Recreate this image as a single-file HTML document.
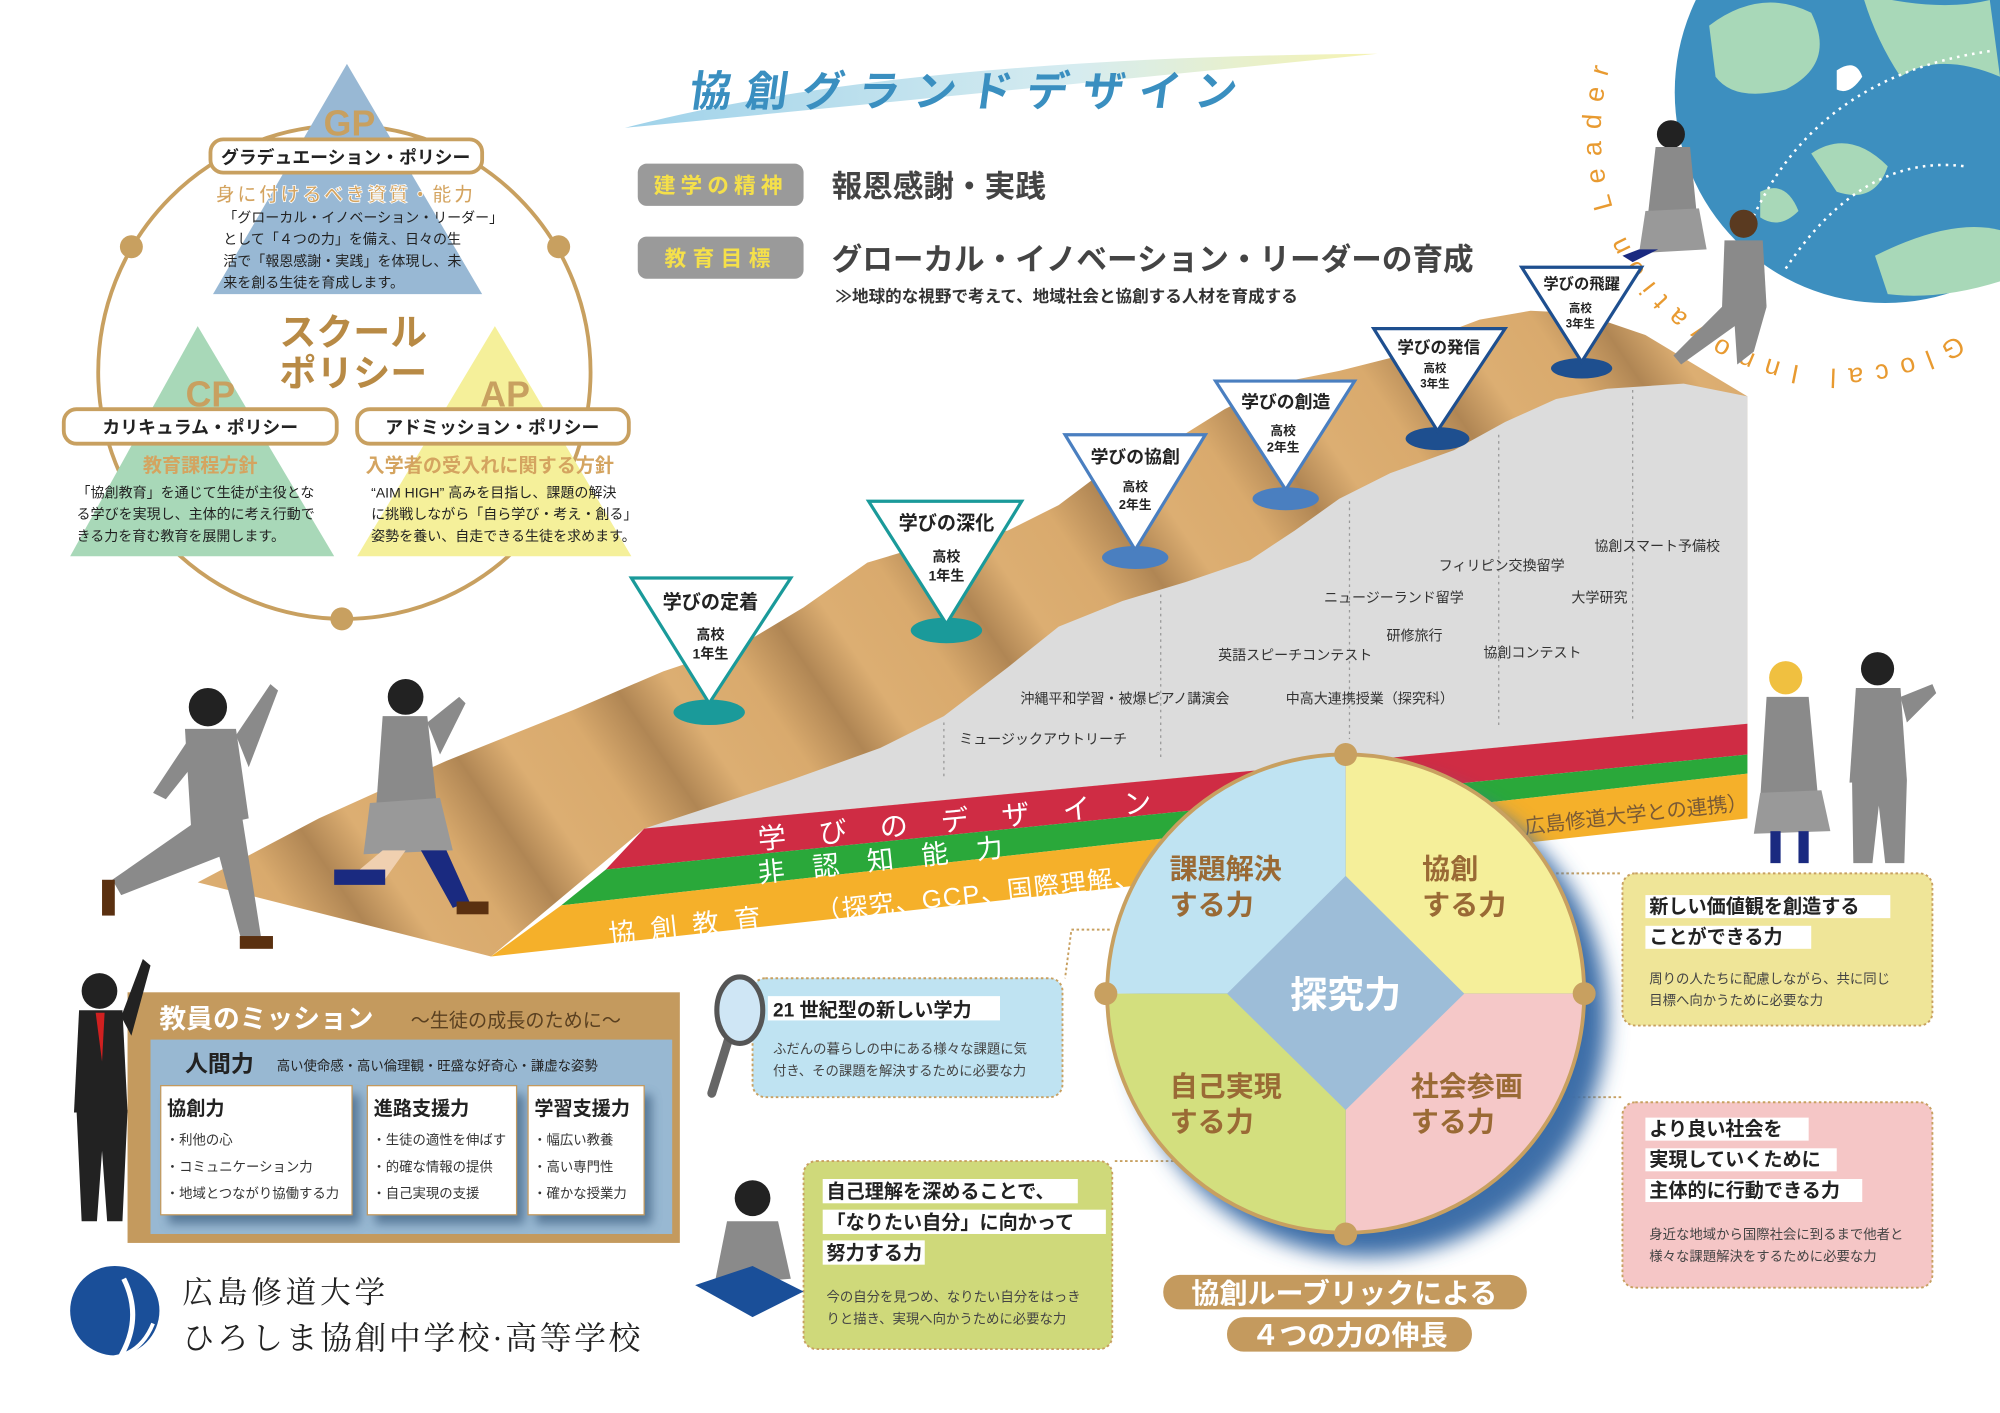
<!DOCTYPE html>
<html><head><meta charset="utf-8"><style>
html,body{margin:0;padding:0;background:#fff;}
svg{display:block;}
text{font-family:"Liberation Sans","Noto Sans CJK JP",sans-serif;}
</style></head><body>
<svg width="2000" height="1413" viewBox="0 0 1568 1105" preserveAspectRatio="none" xmlns="http://www.w3.org/2000/svg">
<defs>
<linearGradient id="sw" x1="0" y1="0" x2="1" y2="0"><stop offset="0" stop-color="#9fd2ea"/><stop offset="0.6" stop-color="#d6ecf0"/><stop offset="1" stop-color="#f6f3b0"/></linearGradient>
<linearGradient id="tan" gradientUnits="userSpaceOnUse" x1="0" y1="0" x2="110" y2="-75" spreadMethod="repeat"><stop offset="0" stop-color="#dcae72"/><stop offset="0.4" stop-color="#d9aa6d"/><stop offset="0.72" stop-color="#b08654"/><stop offset="1" stop-color="#dcae72"/></linearGradient>
<filter id="bl"><feGaussianBlur stdDeviation="8"/></filter>
<filter id="bl2"><feGaussianBlur stdDeviation="4"/></filter>
</defs>

<!-- Globe -->
<circle cx="1478" cy="72" r="165" fill="#3d8fbf"/>
<path d="M1340,20 Q1380,-10 1420,10 Q1440,50 1400,70 Q1360,80 1345,60 Z" fill="#a8d8b8"/>
<path d="M1460,-5 Q1520,10 1560,0 L1568,60 Q1520,40 1490,60 Q1470,30 1460,-5Z" fill="#a8d8b8"/>
<path d="M1420,120 Q1450,100 1480,130 Q1470,160 1440,150 Z" fill="#a8d8b8"/>
<path d="M1470,200 Q1530,170 1568,180 L1568,220 Q1520,235 1480,230 Z" fill="#a8d8b8"/>
<path d="M1380,150 Q1400,140 1410,165 Q1395,180 1380,170Z" fill="#a8d8b8"/>
<path d="M1440,55 Q1455,45 1460,60 Q1450,75 1440,70Z" fill="#fff"/>
<path d="M1370,180 Q1420,60 1560,40" fill="none" stroke="#fff" stroke-width="2" stroke-dasharray="2,4"/>
<path d="M1400,210 Q1460,120 1540,130" fill="none" stroke="#fff" stroke-width="2" stroke-dasharray="2,4"/>
<path id="arc" d="M1535,262 A185,185 0 0,1 1290,-5" fill="none"/>
<text font-size="21" fill="#e89a30" letter-spacing="9"><textPath href="#arc">Glocal Innovation Leader</textPath></text>

<!-- Title -->
<path d="M490,100 Q700,45 1080,42 Q800,70 490,100 Z" fill="url(#sw)"/>
<text x="540" y="83" font-size="33" font-weight="bold" fill="#3a8fc0" letter-spacing="11" transform="skewX(-8) translate(11,0)">協創グランドデザイン</text>

<rect x="500" y="128" width="130" height="33" rx="7" fill="#9a9a9a"/>
<text x="565" y="151" font-size="17" font-weight="bold" fill="#f5e04a" text-anchor="middle" letter-spacing="4">建学の精神</text>
<rect x="500" y="185" width="130" height="33" rx="7" fill="#9a9a9a"/>
<text x="565" y="208" font-size="17" font-weight="bold" fill="#f5e04a" text-anchor="middle" letter-spacing="5">教育目標</text>
<text x="652" y="154" font-size="24" font-weight="bold" fill="#444">報恩感謝・実践</text>
<text x="652" y="211" font-size="24" font-weight="bold" fill="#444">グローカル・イノベーション・リーダーの育成</text>
<text x="655" y="236" font-size="13" font-weight="bold" fill="#333">≫地球的な視野で考えて、地域社会と協創する人材を育成する</text>

<!-- Policy circle -->
<circle cx="270" cy="291" r="193" fill="none" stroke="#c8a060" stroke-width="3"/>
<polygon points="272,50 167,230 378,230" fill="#98b8d4"/>
<polygon points="155,255 55,435 262,435" fill="#a8d8b8"/>
<polygon points="388,255 280,435 495,435" fill="#f5f09a"/>
<text x="274" y="106" font-size="28" font-weight="bold" fill="#c8a060" text-anchor="middle">GP</text>
<text x="165" y="318" font-size="28" font-weight="bold" fill="#c8a060" text-anchor="middle">CP</text>
<text x="396" y="318" font-size="28" font-weight="bold" fill="#c8a060" text-anchor="middle">AP</text>
<circle cx="103" cy="193" r="9" fill="#c8a060"/><circle cx="438" cy="193" r="9" fill="#c8a060"/><circle cx="268" cy="484" r="9" fill="#c8a060"/>
<rect x="165" y="109" width="213" height="26" rx="10" fill="#fff" stroke="#c8a060" stroke-width="3"/>
<text x="271" y="128" font-size="14" font-weight="bold" fill="#222" text-anchor="middle">グラデュエーション・ポリシー</text>
<text x="271" y="157" font-size="15" font-weight="bold" fill="#d4a460" stroke="#fff" stroke-width="0.6" text-anchor="middle" letter-spacing="2">身に付けるべき資質・能力</text>
<g font-size="11" fill="#222"><text x="175" y="174">「グローカル・イノベーション・リーダー」</text><text x="175" y="191">として「４つの力」を備え、日々の生</text><text x="175" y="208">活で「報恩感謝・実践」を体現し、未</text><text x="175" y="225">来を創る生徒を育成します。</text></g>
<text x="277" y="270" font-size="29" font-weight="bold" fill="#b88a45" text-anchor="middle">スクール</text>
<text x="277" y="302" font-size="29" font-weight="bold" fill="#b88a45" text-anchor="middle">ポリシー</text>
<rect x="50" y="320" width="214" height="27" rx="10" fill="#fff" stroke="#c8a060" stroke-width="3"/>
<text x="157" y="339" font-size="14" font-weight="bold" fill="#222" text-anchor="middle">カリキュラム・ポリシー</text>
<rect x="280" y="320" width="213" height="27" rx="10" fill="#fff" stroke="#c8a060" stroke-width="3"/>
<text x="386" y="339" font-size="14" font-weight="bold" fill="#222" text-anchor="middle">アドミッション・ポリシー</text>
<text x="157" y="369" font-size="15" font-weight="bold" fill="#d4a460" text-anchor="middle">教育課程方針</text>
<text x="384" y="369" font-size="15" font-weight="bold" fill="#d4a460" text-anchor="middle">入学者の受入れに関する方針</text>
<g font-size="11" fill="#222"><text x="60" y="389">「協創教育」を通じて生徒が主役とな</text><text x="60" y="406">る学びを実現し、主体的に考え行動で</text><text x="60" y="423">きる力を育む教育を展開します。</text>
<text x="291" y="389">“AIM HIGH” 高みを目指し、課題の解決</text><text x="291" y="406">に挑戦しながら「自ら学び・考え・創る」</text><text x="291" y="423">姿勢を養い、自走できる生徒を求めます。</text></g>

<!-- Mountain -->
<path d="M155,690 L250,640 L350,595 L450,555 L520,525 L580,505 L630,475 L680,440 L730,425 L790,415 L830,395 L870,365 L920,345 L960,320 L1000,300 L1050,290 L1090,280 L1120,265 L1160,250 L1200,243 L1240,245 L1290,262 L1370,310 L1370,566 L505,648 L385,748 Z" fill="url(#tan)"/>
<path d="M505,648 L560,630 L620,610 L690,585 L740,560 L790,522 L830,490 L880,470 L930,455 L980,438 L1015,415 L1050,390 L1090,370 L1140,352 L1180,330 L1220,312 L1260,304 L1320,300 L1370,310 L1370,566 Z" fill="#dcdcdc"/>
<g stroke="#999" stroke-width="1" stroke-dasharray="2,3"><line x1="740" y1="565" x2="740" y2="610"/><line x1="910" y1="465" x2="910" y2="592"/><line x1="1058" y1="392" x2="1058" y2="578"/><line x1="1175" y1="340" x2="1175" y2="568"/><line x1="1280" y1="305" x2="1280" y2="565"/></g>
<g font-size="11" fill="#333"><text x="1250" y="431">協創スマート予備校</text><text x="1128" y="446">フィリピン交換留学</text><text x="1038" y="471">ニュージーランド留学</text><text x="1232" y="471">大学研究</text><text x="1087" y="501">研修旅行</text><text x="955" y="516">英語スピーチコンテスト</text><text x="1163" y="514">協創コンテスト</text><text x="800" y="550">沖縄平和学習・被爆ピアノ講演会</text><text x="1008" y="550">中高大連携授業（探究科）</text><text x="752" y="582">ミュージックアウトリーチ</text></g>
<!-- bands -->
<polygon points="505,648 1370,566 1370,590 475,680" fill="#cf2c44"/>
<polygon points="475,680 1370,590 1370,605 440,708" fill="#2aa83a"/>
<polygon points="440,708 1370,605 1370,640 385,748" fill="#f5b02a"/>
<text font-size="22" fill="#fff" letter-spacing="26" transform="translate(595,664) rotate(-5.4)">学びのデザイン</text>
<text font-size="21" fill="#fff" letter-spacing="22" transform="translate(595,690) rotate(-6)">非認知能力</text>
<text font-size="21" fill="#fff" letter-spacing="12" transform="translate(478,738) rotate(-6.3)">協創教育</text>
<text font-size="20" fill="#fff" letter-spacing="1" transform="translate(640,720) rotate(-6.3)">（探究、GCP、国際理解、</text>
<text font-size="16" fill="#7a5a35" transform="translate(1196,652) rotate(-6.3)">広島修道大学との連携）</text>

<!-- pins -->
<g font-weight="bold" text-anchor="middle">
<ellipse cx="556" cy="557" rx="28" ry="10" fill="#1a9a9a"/>
<polygon points="495,452 620,452 556,550" fill="#fff" stroke="#1a9a9a" stroke-width="2.5"/>
<text x="557" y="476" font-size="15" fill="#222">学びの定着</text><text x="557" y="500" font-size="11" fill="#222">高校</text><text x="557" y="515" font-size="11" fill="#222">1年生</text>
<ellipse cx="742" cy="493" rx="28" ry="10" fill="#1a9a9a"/>
<polygon points="681,392 801,392 742,488" fill="#fff" stroke="#1a9a9a" stroke-width="2.5"/>
<text x="742" y="414" font-size="15" fill="#222">学びの深化</text><text x="742" y="439" font-size="11" fill="#222">高校</text><text x="742" y="454" font-size="11" fill="#222">1年生</text>
<ellipse cx="890" cy="436" rx="26" ry="9" fill="#4a7fc0"/>
<polygon points="835,340 945,340 890,430" fill="#fff" stroke="#4a7fc0" stroke-width="2.5"/>
<text x="890" y="362" font-size="14" fill="#222">学びの協創</text><text x="890" y="384" font-size="10" fill="#222">高校</text><text x="890" y="398" font-size="10" fill="#222">2年生</text>
<ellipse cx="1008" cy="390" rx="26" ry="9" fill="#4a7fc0"/>
<polygon points="953,298 1062,298 1008,383" fill="#fff" stroke="#4a7fc0" stroke-width="2.5"/>
<text x="1008" y="319" font-size="14" fill="#222">学びの創造</text><text x="1006" y="340" font-size="10" fill="#222">高校</text><text x="1006" y="353" font-size="10" fill="#222">2年生</text>
<ellipse cx="1127" cy="343" rx="25" ry="9" fill="#1e4f8f"/>
<polygon points="1077,257 1180,257 1127,337" fill="#fff" stroke="#1e4f8f" stroke-width="2.5"/>
<text x="1128" y="276" font-size="13" fill="#222">学びの発信</text><text x="1125" y="291" font-size="9" fill="#222">高校</text><text x="1125" y="303" font-size="9" fill="#222">3年生</text>
<ellipse cx="1240" cy="288" rx="24" ry="8" fill="#1e4f8f"/>
<polygon points="1193,209 1287,209 1240,283" fill="#fff" stroke="#1e4f8f" stroke-width="2.5"/>
<text x="1240" y="226" font-size="12" fill="#222">学びの飛躍</text><text x="1239" y="244" font-size="9" fill="#222">高校</text><text x="1239" y="256" font-size="9" fill="#222">3年生</text>
</g>

<!-- Wheel -->
<g stroke="#c8a060" stroke-width="1.5" stroke-dasharray="2,2" fill="none"><path d="M1180,683 L1272,683"/><path d="M1205,858 L1272,858"/><path d="M870,727 L840,727 L835,765"/><path d="M920,908 L872,908"/></g>
<ellipse cx="1072" cy="795" rx="188" ry="188" fill="#3d6ea8" filter="url(#bl)"/>
<path d="M1055,777 L1055,590 A187,187 0 0,0 868,777 Z" fill="#bfe3f2"/>
<path d="M1055,777 L1055,590 A187,187 0 0,1 1242,777 Z" fill="#f5ef9a"/>
<path d="M1055,777 L1242,777 A187,187 0 0,1 1055,964 Z" fill="#f5c8c8"/>
<path d="M1055,777 L1055,964 A187,187 0 0,1 868,777 Z" fill="#d3df7e"/>
<circle cx="1055" cy="777" r="187" fill="none" stroke="#c8a060" stroke-width="3"/>
<polygon points="1055,685 1148,777 1055,868 962,777" fill="#9dbdd8"/>
<text x="1055" y="788" font-size="29" font-weight="bold" fill="#fff" text-anchor="middle">探究力</text>
<g font-size="22" font-weight="bold" fill="#9a6a35"><text x="917" y="687">課題解決</text><text x="917" y="715">する力</text><text x="1115" y="687">協創</text><text x="1115" y="715">する力</text><text x="917" y="857">自己実現</text><text x="917" y="885">する力</text><text x="1106" y="857">社会参画</text><text x="1106" y="885">する力</text></g>
<g fill="#c8a060"><circle cx="1055" cy="590" r="9"/><circle cx="867" cy="777" r="9"/><circle cx="1242" cy="777" r="9"/><circle cx="1055" cy="965" r="9"/></g>
<rect x="912" y="997" width="285" height="27" rx="13" fill="#c49a5e"/>
<text x="1054" y="1019" font-size="22" font-weight="bold" fill="#fff" text-anchor="middle">協創ルーブリックによる</text>
<rect x="962" y="1030" width="192" height="27" rx="13" fill="#c49a5e"/>
<text x="1058" y="1052" font-size="22" font-weight="bold" fill="#fff" text-anchor="middle">４つの力の伸長</text>

<!-- Right boxes -->
<rect x="1272" y="683" width="243" height="119" rx="10" fill="#efe598" stroke="#c8a060" stroke-width="1.5" stroke-dasharray="2,2"/>
<rect x="1290" y="700" width="192" height="18" fill="#fff"/><rect x="1290" y="724" width="130" height="18" fill="#fff"/>
<g font-size="15" font-weight="bold" fill="#222"><text x="1293" y="714">新しい価値観を創造する</text><text x="1293" y="738">ことができる力</text></g>
<g font-size="10.5" fill="#444"><text x="1293" y="769">周りの人たちに配慮しながら、共に同じ</text><text x="1293" y="786">目標へ向かうために必要な力</text></g>
<rect x="1272" y="862" width="243" height="145" rx="10" fill="#f5c6c6" stroke="#c8a060" stroke-width="1.5" stroke-dasharray="2,2"/>
<rect x="1290" y="874" width="128" height="18" fill="#fff"/><rect x="1290" y="898" width="150" height="18" fill="#fff"/><rect x="1290" y="922" width="170" height="18" fill="#fff"/>
<g font-size="15" font-weight="bold" fill="#222"><text x="1293" y="888">より良い社会を</text><text x="1293" y="912">実現していくために</text><text x="1293" y="936">主体的に行動できる力</text></g>
<g font-size="10.5" fill="#444"><text x="1293" y="969">身近な地域から国際社会に到るまで他者と</text><text x="1293" y="986">様々な課題解決をするために必要な力</text></g>

<!-- Light blue box -->
<rect x="590" y="765" width="243" height="93" rx="10" fill="#bfe3f2" stroke="#c8a060" stroke-width="1.5" stroke-dasharray="2,2"/>
<rect x="602" y="779" width="182" height="19" fill="#fff"/>
<text x="606" y="795" font-size="15" font-weight="bold" fill="#222">21 世紀型の新しい学力</text>
<g font-size="10.5" fill="#444"><text x="606" y="824">ふだんの暮らしの中にある様々な課題に気</text><text x="606" y="841">付き、その課題を解決するために必要な力</text></g>
<line x1="572" y1="810" x2="558" y2="855" stroke="#666" stroke-width="7" stroke-linecap="round"/>
<ellipse cx="580" cy="790" rx="18" ry="26" fill="#cfe6f5" stroke="#555" stroke-width="4"/>

<!-- Green box -->
<rect x="630" y="908" width="242" height="147" rx="10" fill="#cfd97a" stroke="#c8a060" stroke-width="1.5" stroke-dasharray="2,2"/>
<rect x="645" y="922" width="200" height="19" fill="#fff"/><rect x="645" y="946" width="222" height="19" fill="#fff"/><rect x="645" y="970" width="80" height="19" fill="#fff"/>
<g font-size="15" font-weight="bold" fill="#222"><text x="648" y="937">自己理解を深めることで、</text><text x="648" y="961">「なりたい自分」に向かって</text><text x="648" y="985">努力する力</text></g>
<g font-size="10.5" fill="#444"><text x="648" y="1018">今の自分を見つめ、なりたい自分をはっき</text><text x="648" y="1035">りと描き、実現へ向かうために必要な力</text></g>

<!-- Teacher mission -->
<rect x="100" y="776" width="433" height="196" fill="#c49a5e"/>
<rect x="118" y="813" width="409" height="152" fill="#98b8d2"/>
<text x="125" y="804" font-size="21" font-weight="bold" fill="#fff">教員のミッション</text>
<text x="322" y="803" font-size="15" fill="#5a4020">〜生徒の成長のために〜</text>
<text x="145" y="838" font-size="18" font-weight="bold" fill="#222">人間力</text>
<text x="217" y="837" font-size="10.5" fill="#222">高い使命感・高い倫理観・旺盛な好奇心・謙虚な姿勢</text>
<g fill="#3d5f80" filter="url(#bl2)" opacity="0.7"><rect x="132" y="856" width="150" height="101"/><rect x="294" y="856" width="117" height="101"/><rect x="420" y="856" width="91" height="101"/></g>
<g fill="#fff" stroke="#c49a5e" stroke-width="1"><rect x="126" y="849" width="150" height="101"/><rect x="288" y="849" width="117" height="101"/><rect x="414" y="849" width="91" height="101"/></g>
<g font-size="15" font-weight="bold" fill="#222"><text x="131" y="872">協創力</text><text x="293" y="872">進路支援力</text><text x="419" y="872">学習支援力</text></g>
<g font-size="10.5" fill="#333"><text x="130" y="895">・利他の心</text><text x="130" y="916">・コミュニケーション力</text><text x="130" y="937">・地域とつながり協働する力</text>
<text x="292" y="895">・生徒の適性を伸ばす</text><text x="292" y="916">・的確な情報の提供</text><text x="292" y="937">・自己実現の支援</text>
<text x="418" y="895">・幅広い教養</text><text x="418" y="916">・高い専門性</text><text x="418" y="937">・確かな授業力</text></g>

<!-- Logo -->
<circle cx="90" cy="1025" r="35" fill="#1a4f99"/>
<path d="M97,1000 Q112,1030 95,1060" fill="none" stroke="#fff" stroke-width="4"/>
<path d="M85,1062 Q110,1060 120,1035" fill="none" stroke="#fff" stroke-width="3"/>
<text x="143" y="1019" font-size="24" fill="#222" style="font-family:'Liberation Serif','Noto Serif CJK SC',serif" letter-spacing="3">広島修道大学</text>
<text x="143" y="1055" font-size="25" fill="#222" style="font-family:'Liberation Serif','Noto Serif CJK SC',serif" letter-spacing="2">ひろしま協創中学校·高等学校</text>

<!-- Figures (simplified) -->
<g>
<circle cx="163" cy="553" r="15" fill="#222"/>
<polygon points="145,570 185,570 195,640 150,650" fill="#8a8a8a"/>
<polygon points="185,575 212,535 218,540 195,600" fill="#8a8a8a"/>
<polygon points="150,575 120,620 130,625 158,590" fill="#8a8a8a"/>
<polygon points="150,645 190,640 205,735 190,738 172,670 95,700 88,688" fill="#8a8a8a"/>
<rect x="80" y="688" width="10" height="28" fill="#5a3010"/><rect x="188" y="732" width="26" height="10" fill="#5a3010"/>
<circle cx="318" cy="545" r="14" fill="#222"/>
<polygon points="300,560 335,560 342,625 295,630" fill="#8a8a8a"/>
<polygon points="335,565 360,545 365,550 345,590" fill="#8a8a8a"/>
<polygon points="290,628 345,624 355,665 285,668" fill="#999"/>
<polygon points="300,665 318,665 300,690 270,690" fill="#f0d0b0"/>
<polygon points="330,665 350,665 368,705 355,710" fill="#1a2a80"/>
<rect x="262" y="680" width="40" height="12" fill="#1a2a80"/>
<rect x="358" y="705" width="25" height="10" fill="#5a3010"/>
<circle cx="1400" cy="530" r="13" fill="#f0c040"/>
<polygon points="1385,545 1418,545 1425,620 1380,625" fill="#8a8a8a"/>
<polygon points="1380,620 1428,618 1435,650 1375,652" fill="#999"/>
<rect x="1388" y="650" width="8" height="25" fill="#1a2a80"/><rect x="1410" y="650" width="8" height="25" fill="#1a2a80"/>
<circle cx="1472" cy="523" r="13" fill="#222"/>
<polygon points="1455,538 1490,538 1495,610 1450,612" fill="#8a8a8a"/>
<polygon points="1452,610 1495,610 1493,675 1478,675 1473,630 1468,675 1453,675" fill="#8a8a8a"/>
<polygon points="1490,545 1515,535 1518,542 1495,565" fill="#8a8a8a"/>
<circle cx="1310" cy="105" r="11" fill="#222"/>
<polygon points="1298,115 1325,115 1330,165 1292,168" fill="#8a8a8a"/>
<polygon points="1290,165 1332,163 1338,195 1285,198" fill="#999"/>
<polygon points="1285,195 1300,195 1280,205 1272,200" fill="#1a2a80"/>
<circle cx="1367" cy="175" r="11" fill="#5a3a20"/>
<polygon points="1352,188 1382,188 1385,240 1350,242" fill="#8a8a8a"/>
<polygon points="1350,240 1385,240 1375,275 1362,285 1360,255 1318,285 1312,278" fill="#8a8a8a"/>
<circle cx="78" cy="775" r="14" fill="#222"/>
<polygon points="62,790 96,790 100,870 58,870" fill="#222"/>
<polygon points="95,795 112,750 118,755 103,810" fill="#222"/>
<polygon points="75,792 82,792 80,830" fill="#d02020"/>
<polygon points="60,868 100,868 96,955 84,955 80,900 76,955 64,955" fill="#222"/>
<circle cx="590" cy="937" r="14" fill="#222"/>
<polygon points="570,955 610,955 620,1000 560,1005" fill="#8a8a8a"/>
<polygon points="545,1005 590,990 630,1010 590,1030" fill="#1a4f99"/>
</g>
</svg>
</body></html>
